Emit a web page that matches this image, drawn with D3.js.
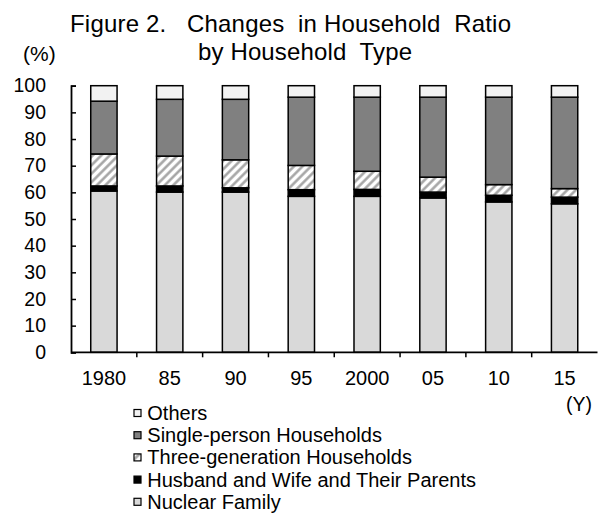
<!DOCTYPE html>
<html>
<head>
<meta charset="utf-8">
<script src="https://cdn.jsdelivr.net/npm/d3@7"></script>
<style>
  html, body { margin: 0; padding: 0; background: #fff; }
  svg { display: block; font-family: "Liberation Sans", Arial, sans-serif; }
</style>
</head>
<body>
<svg id="chart" width="600" height="515"></svg>
<script>
// Share of households by type (%), census years
const years = ["1980", "85", "90", "95", "2000", "05", "10", "15"];
const nuclearFamily = [60.5, 60.1, 60.1, 58.5, 58.5, 57.9, 56.4, 55.7];
const coupleWithParents = [1.9, 2.3, 1.6, 2.5, 2.6, 2.2, 2.5, 2.5];
const threeGeneration = [12.0, 11.2, 10.5, 9.1, 6.8, 5.6, 4.0, 3.2];
const singlePerson = [19.8, 21.3, 22.7, 25.6, 27.8, 30.0, 32.8, 34.3];
const others = [5.8, 5.1, 5.1, 4.3, 4.3, 4.3, 4.3, 4.3];
const yTicks = [0, 10, 20, 30, 40, 50, 60, 70, 80, 90, 100];

const seriesKeys = ["nuclear", "couple", "three", "single", "others"];
const seriesNames = {
  nuclear: "Nuclear Family",
  couple: "Husband and Wife and Their Parents",
  three: "Three-generation Households",
  single: "Single-person Households",
  others: "Others"
};
const fills = {
  nuclear: "#d9d9d9",
  couple: "#000000",
  three: "url(#hatch)",
  single: "#808080",
  others: "#f2f2f2"
};

const rows = years.map((y, i) => ({
  year: y,
  nuclear: nuclearFamily[i],
  couple: coupleWithParents[i],
  three: threeGeneration[i],
  single: singlePerson[i],
  others: others[i]
}));

const svg = d3.select("#chart");

// diagonal hatch for the three-generation segment
const defs = svg.append("defs");
const pat = defs.append("pattern")
  .attr("id", "hatch")
  .attr("patternUnits", "userSpaceOnUse")
  .attr("width", 6).attr("height", 6)
  .attr("patternTransform", "rotate(45)");
pat.append("rect").attr("width", 6).attr("height", 6).attr("fill", "#ffffff");
pat.append("line")
  .attr("x1", 1.5).attr("y1", 0).attr("x2", 1.5).attr("y2", 6)
  .attr("stroke", "#a0a0a0").attr("stroke-width", 2.4);

const plotLeft = 71, plotRight = 597.5, plotTop = 85.7, plotBottom = 352.3;

const x = d3.scaleBand()
  .domain(years)
  .range([plotLeft, plotRight])
  .paddingInner(0.6)
  .paddingOuter(0.3);

const y = d3.scaleLinear().domain([0, 100]).range([plotBottom, plotTop]);

const stacked = d3.stack().keys(seriesKeys)(rows);

// bars
const layers = svg.append("g").attr("class", "bars")
  .selectAll("g").data(stacked).join("g")
  .attr("fill", d => fills[d.key]);

layers.selectAll("rect").data(d => d).join("rect")
  .attr("x", d => x(d.data.year))
  .attr("width", x.bandwidth())
  .attr("y", d => y(d[1]))
  .attr("height", d => y(d[0]) - y(d[1]))
  .attr("stroke", "#000")
  .attr("stroke-width", 1.5);

// y axis, ticks pointing into the plot
const yAxis = svg.append("g")
  .attr("transform", `translate(${plotLeft},0)`)
  .call(d3.axisLeft(y).tickValues(yTicks).tickSize(-5).tickPadding(25).tickFormat(d3.format("d")));
yAxis.select(".domain").attr("stroke-width", 1.8);
yAxis.selectAll(".tick line").attr("stroke-width", 1.5);
yAxis.selectAll("text").attr("font-size", 19.5).attr("fill", "#000")
  .attr("font-family", "Liberation Sans, Arial, sans-serif");

// x axis: line, category boundary ticks, labels
const step = x.step();
svg.append("line")
  .attr("x1", plotLeft).attr("x2", plotRight)
  .attr("y1", plotBottom).attr("y2", plotBottom)
  .attr("stroke", "#000").attr("stroke-width", 1.8);
svg.append("g").selectAll("line").data(years.slice(1)).join("line")
  .attr("x1", d => x(d) - step * x.paddingInner() / 2)
  .attr("x2", d => x(d) - step * x.paddingInner() / 2)
  .attr("y1", plotBottom).attr("y2", plotBottom + 5)
  .attr("stroke", "#000").attr("stroke-width", 1.5);

const xAxis = svg.append("g")
  .attr("transform", `translate(0,${plotBottom})`)
  .call(d3.axisBottom(x).tickSize(0).tickPadding(19));
xAxis.select(".domain").remove();
xAxis.selectAll("text").attr("font-size", 20).attr("fill", "#000")
  .attr("font-family", "Liberation Sans, Arial, sans-serif");

// unit labels
svg.append("text").attr("x", 23).attr("y", 61)
  .attr("font-size", 21).text("(%)");
svg.append("text").attr("x", 566).attr("y", 411)
  .attr("font-size", 19.5).text("(Y)");

// title
svg.append("text").attr("x", 70).attr("y", 31.7)
  .attr("font-size", 24)
  .attr("textLength", 441).attr("lengthAdjust", "spacing")
  .style("white-space", "pre")
  .text("Figure 2.   Changes  in Household  Ratio");
svg.append("text").attr("x", 198).attr("y", 60)
  .attr("font-size", 24)
  .attr("textLength", 214).attr("lengthAdjust", "spacing")
  .style("white-space", "pre")
  .text("by Household  Type");

// legend
const legendKeys = seriesKeys.slice().reverse();
const legend = svg.append("g").attr("class", "legend")
  .selectAll("g").data(legendKeys).join("g")
  .attr("transform", (d, i) => `translate(134,${413 + i * 22.2})`);
legend.append("rect")
  .attr("x", 0).attr("y", -3.5).attr("width", 7).attr("height", 7)
  .attr("fill", d => fills[d]).attr("stroke", "#000").attr("stroke-width", 1.2);
legend.append("text")
  .attr("x", 13.3).attr("y", 0).attr("dy", "0.35em")
  .attr("font-size", 20)
  .text(d => seriesNames[d]);
</script>
</body>
</html>
